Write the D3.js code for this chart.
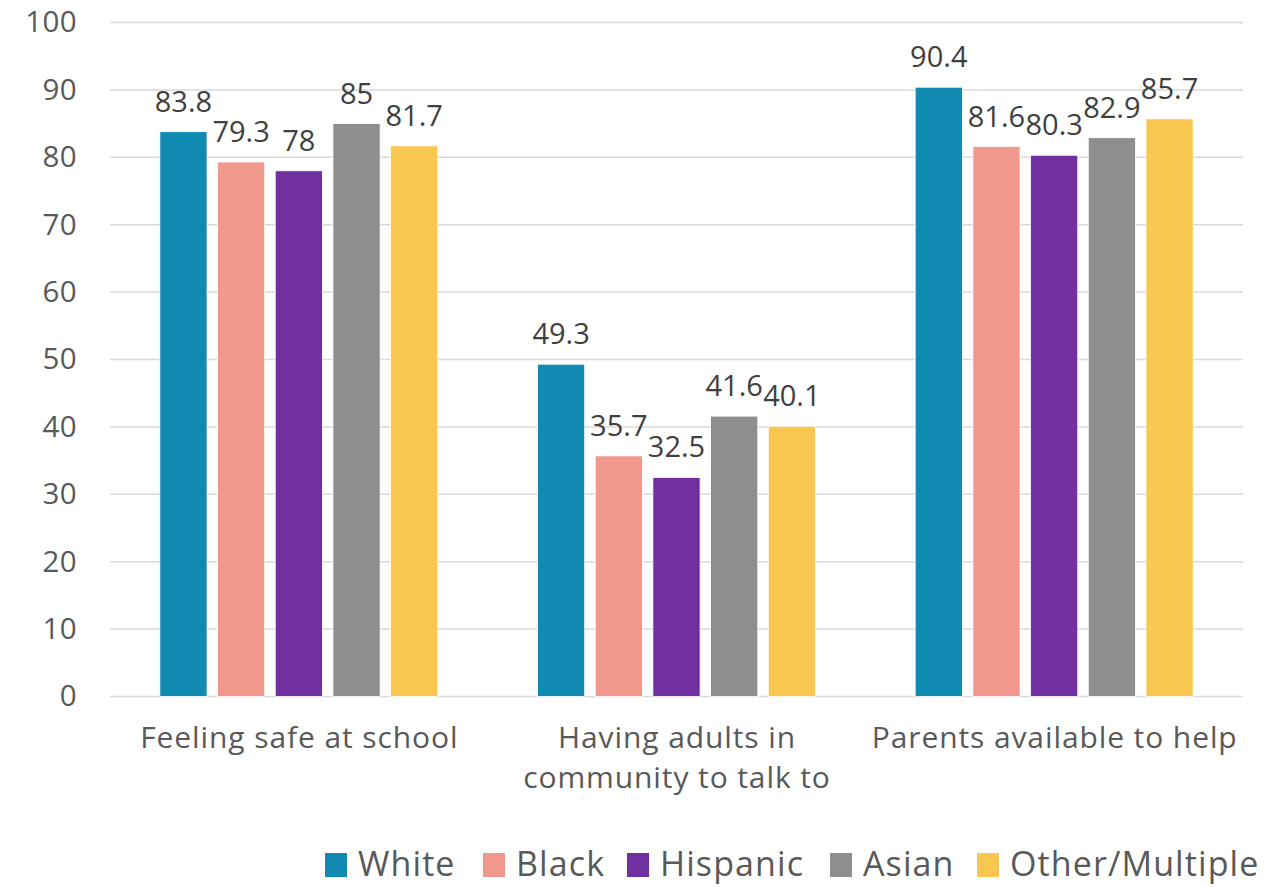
<!DOCTYPE html>
<html><head><meta charset="utf-8">
<script src="https://cdn.jsdelivr.net/npm/d3@7"></script>
<style>body{margin:0;background:#fff;} svg{display:block;font-family:"Open Sans",sans-serif;}</style>
</head><body>
<svg id="c" width="1281" height="887"></svg>
<script>
const categories = ["Feeling safe at school", "Having adults in community to talk to", "Parents available to help"];
const categoryLines = [["Feeling safe at school"], ["Having adults in", "community to talk to"], ["Parents available to help"]];
const seriesNames = ["White", "Black", "Hispanic", "Asian", "Other/Multiple"];
const white = [83.8, 49.3, 90.4];
const black = [79.3, 35.7, 81.6];
const hispanic = [78, 32.5, 80.3];
const asian = [85, 41.6, 82.9];
const other = [81.7, 40.1, 85.7];
const seriesValues = [white, black, hispanic, asian, other];
const colors = ["#118AB2", "#F0988C", "#7030A0", "#8E8E8E", "#F9C74F"];
const yTicks = [0, 10, 20, 30, 40, 50, 60, 70, 80, 90, 100];

const svg = d3.select("#c");
const plotLeft = 110, plotRight = 1243, plotTop = 22.5, plotBottom = 696.5;
const y = d3.scaleLinear().domain([0, 100]).range([plotBottom, plotTop]);
const x0 = d3.scaleBand().domain(categories).range([plotLeft, plotRight]).paddingInner(0.264).paddingOuter(0.132);
const x1 = d3.scaleBand().domain(seriesNames).range([0, x0.bandwidth()]).paddingInner(0.182).paddingOuter(0);
const color = d3.scaleOrdinal().domain(seriesNames).range(colors);

// gridlines
svg.append("g").selectAll("line").data(yTicks).join("line")
  .attr("x1", plotLeft).attr("x2", plotRight)
  .attr("y1", d => y(d)).attr("y2", d => y(d))
  .attr("stroke", "#d9d9d9").attr("stroke-width", 1.5);

// y axis labels
const yAxis = d3.axisLeft(y).tickValues(yTicks).tickSize(0).tickPadding(0);
const ya = svg.append("g").attr("transform", `translate(77,0)`).call(yAxis);
ya.select(".domain").remove();
ya.selectAll("text").attr("font-size", 29.5).attr("letter-spacing", 0.4).attr("fill", "#595959").attr("font-family", "Open Sans, sans-serif");

// bars
const data = [];
categories.forEach((c, ci) => seriesNames.forEach((s, si) => data.push({c, ci, s, v: seriesValues[si][ci]})));
const g = svg.append("g");
g.selectAll("rect").data(data).join("rect")
  .attr("x", d => x0(d.c) + x1(d.s))
  .attr("width", x1.bandwidth())
  .attr("y", d => y(d.v))
  .attr("height", d => y(0) - y(d.v))
  .attr("fill", d => color(d.s))
  .attr("stroke", "#fff").attr("stroke-width", 0.8);

g.selectAll("text.v").data(data).join("text").attr("class", "v")
  .attr("x", d => x0(d.c) + x1(d.s) + x1.bandwidth() / 2)
  .attr("y", d => y(d.v) - 20)
  .attr("text-anchor", "middle")
  .attr("font-size", 29).attr("fill", "#404040")
  .text(d => String(d.v));

// category labels
const xl = svg.append("g");
categories.forEach((c, ci) => {
  const cx = x0(c) + x0.bandwidth() / 2 + 0.5;
  const t = xl.append("text").attr("x", cx).attr("text-anchor", "middle")
    .attr("font-size", 30).attr("letter-spacing", 0.9).attr("fill", "#595959");
  categoryLines[ci].forEach((line, li) => {
    t.append("tspan").attr("x", cx).attr("y", 748 + li * 40).text(line);
  });
});

// legend
const legendX = [325, 483, 627, 830, 977];
const lg = svg.append("g");
seriesNames.forEach((s, i) => {
  lg.append("rect").attr("x", legendX[i]).attr("y", 853).attr("width", 22).attr("height", 24).attr("fill", color(s));
  lg.append("text").attr("x", legendX[i] + 33).attr("y", 876).attr("font-size", 34).attr("letter-spacing", 1.1).attr("fill", "#595959").text(s);
});
</script>
</body></html>
